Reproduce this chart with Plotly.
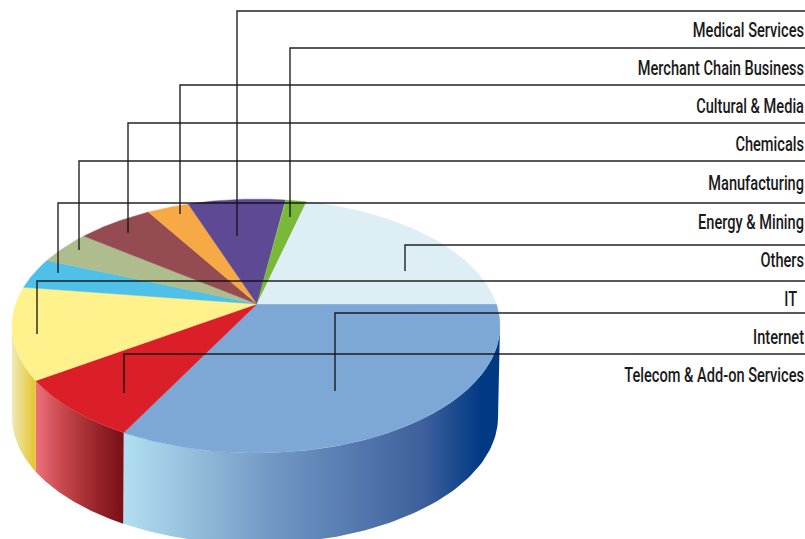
import numpy as np
import plotly.graph_objects as go

# Data, listed clockwise from the right-hand edge of the pie
categories = ["Internet", "Telecom & Add-on Services", "IT", "Energy & Mining", "Manufacturing",
              "Chemicals", "Cultural & Media", "Medical Services", "Merchant Chain Business", "Others"]
shares = [36.9, 8.8, 12.0, 3.7, 3.9, 5.2, 2.8, 6.4, 1.4, 18.9]

# Label stack, top to bottom
label_order = ["Medical Services", "Merchant Chain Business", "Cultural & Media", "Chemicals", "Manufacturing",
               "Energy & Mining", "Others", "IT  ", "Internet", "Telecom & Add-on Services"]

top_colors = ["#7DA7D5", "#DB1F28", "#FFF18B", "#4FC1E9", "#AFBD8E",
              "#944B52", "#F6A945", "#5E4A94", "#7AB838", "#DDEEF5"]
wall_scales = {
    0: [[0, "#B2DFF0"], [0.4, "#7097C4"], [0.8, "#3D5F9C"], [0.95, "#003A84"], [1, "#003A84"]],
    1: [[0, "#EB727A"], [0.3, "#C9484E"], [0.7, "#982429"], [1, "#790F17"]],
    2: [[0, "#F0E9B8"], [1, "#E5C42A"]],
}

# Projection of the pie
CX, CY, RX, RY = 256.0, 326.0, 244.0, 127.0
APEX_X, APEX_Y = 257.0, 304.0
DEPTH = 91.0
START_DEG = 10.0


def rim(t_deg, depth=0.0):
    t = np.radians(t_deg)
    scale = 1 - 0.004 * (depth > 0)
    return CX - 1 * (depth > 0) + RX * scale * np.cos(t), CY + depth - RY * np.sin(t)


fig = go.Figure()

edges = START_DEG - np.cumsum([0] + shares) * 3.6

# side walls (only the front half of the rim is visible)
for i, scale in wall_scales.items():
    a, b = edges[i], edges[i + 1]
    a = min(a, 0.0)
    b = max(b, -180.0)
    ts = np.linspace(a, b, 90)
    x1, y1 = rim(ts)
    x2, y2 = rim(ts[::-1], DEPTH)
    xs = np.r_[x1, x2, x1[0]]
    ys = np.r_[y1, y2, y1[0]]
    fig.add_trace(go.Scatter(
        x=xs, y=ys, mode="lines", line=dict(width=0), fill="toself",
        fillgradient=dict(type="horizontal", colorscale=scale, start=float(xs.min()), stop=float(xs.max())),
        hoverinfo="skip", showlegend=False))

# top face
for i, name in enumerate(categories):
    ts = np.linspace(edges[i], edges[i + 1], 90)
    x, y = rim(ts)
    fig.add_trace(go.Scatter(
        x=np.r_[APEX_X, x, APEX_X], y=np.r_[APEX_Y, y, APEX_Y], mode="lines",
        line=dict(width=0.4, color=top_colors[i]), fill="toself", fillcolor=top_colors[i],
        name=name, hoverinfo="name", showlegend=False))

# leader lines: rule height, drop x, drop end y
leader_rule_y = [11, 48, 85, 123, 161, 203, 245, 281, 313, 354]
leader_drop_x = [237, 290, 180, 128, 79, 58, 405, 37, 335, 124]
leader_end_y = [236, 217, 214, 233, 250, 273, 271, 334, 391, 393]
label_y = [32.2, 70.2, 108.5, 146.5, 185.5, 224.2, 262.5, 301, 339.2, 377.5]

for ry_, dx, ey in zip(leader_rule_y, leader_drop_x, leader_end_y):
    fig.add_trace(go.Scatter(x=[805, dx, dx], y=[ry_, ry_, ey], mode="lines",
                             line=dict(color="#111111", width=1.4), opacity=0.92,
                             hoverinfo="skip", showlegend=False))

fig.add_trace(go.Scatter(
    x=[804] * len(label_order), y=label_y, mode="text", text=label_order,
    textposition="middle left", cliponaxis=False,
    textfont=dict(family="Roboto", size=20, color="#1a1a1a", weight=500),
    hoverinfo="skip", showlegend=False))

fig.update_layout(
    width=805, height=539, margin=dict(l=0, r=0, t=0, b=0),
    paper_bgcolor="white", plot_bgcolor="white",
    xaxis=dict(range=[0, 805], visible=False, fixedrange=True),
    yaxis=dict(range=[539, 0], visible=False, fixedrange=True),
)
condense = """
document.body.style.margin='0';
document.documentElement.style.overflow='hidden';
document.querySelectorAll('.textpoint text').forEach(function(t){
  t.setAttribute('transform','translate(804 0) scale(0.73 1) translate(-804 0)');
});
"""
fig.write_html("out.html", config=dict(displayModeBar=False), post_script=condense)
